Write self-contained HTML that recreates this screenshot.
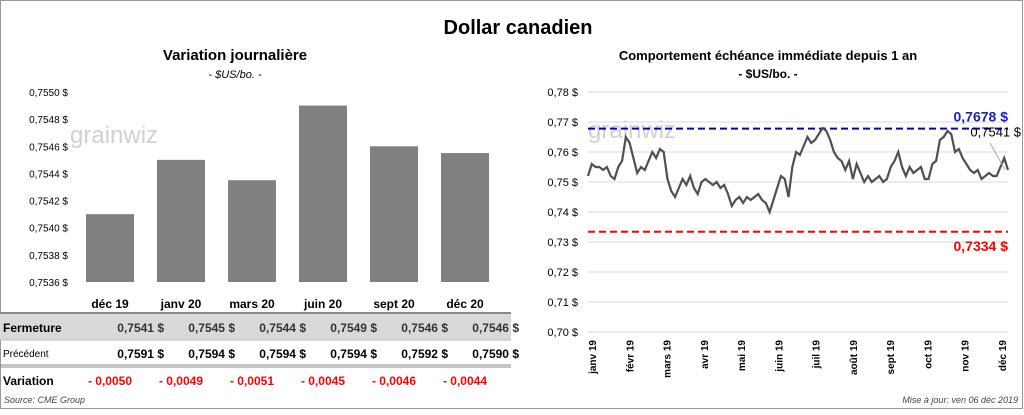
<!DOCTYPE html>
<html><head><meta charset="utf-8"><style>
body{margin:0;width:1024px;height:410px;overflow:hidden;background:#fff;font-family:"Liberation Sans",sans-serif}
svg text{font-family:"Liberation Sans",sans-serif}
</style></head><body>
<svg id="s" width="1024" height="410">
<rect x="0.5" y="0.5" width="1022" height="408" fill="#fff" stroke="#999"/>
<text x="518" y="34" font-size="20" font-weight="bold" text-anchor="middle">Dollar canadien</text>
<text x="235" y="60" font-size="15" font-weight="bold" text-anchor="middle">Variation  journalière</text>
<text x="235" y="78" font-size="11" font-style="italic" text-anchor="middle">- $US/bo. -</text>
<text x="768" y="60" font-size="13" font-weight="bold" text-anchor="middle">Comportement échéance immédiate depuis 1 an</text>
<text x="768" y="78" font-size="12" font-weight="bold" text-anchor="middle">- $US/bo. -</text>
<g id="left"></g><g id="right"></g>
<text x="4" y="403" font-size="9" font-style="italic" fill="#444">Source: CME Group</text>
<text x="1018" y="403" font-size="9" font-style="italic" fill="#444" text-anchor="end">Mise à jour: ven 06 déc 2019</text>
</svg>
<script>
const barCats=["déc 19","janv 20","mars 20","juin 20","sept 20","déc 20"];
const barVals=[0.7541,0.7545,0.75435,0.7549,0.7546,0.75455];
const closeVals=["0,7541","0,7545","0,7544","0,7549","0,7546","0,7546"];
const prevVals=["0,7591","0,7594","0,7594","0,7594","0,7592","0,7590"];
const varVals=["- 0,0050","- 0,0049","- 0,0051","- 0,0045","- 0,0046","- 0,0044"];
const leftTicks=[0.7536,0.7538,0.754,0.7542,0.7544,0.7546,0.7548,0.755];
const lineVals=[0.752,0.756,0.755,0.755,0.754,0.755,0.752,0.751,0.755,0.757,0.765,0.763,0.758,0.753,0.755,0.754,0.757,0.760,0.758,0.761,0.760,0.751,0.747,0.745,0.748,0.751,0.749,0.752,0.748,0.746,0.750,0.751,0.750,0.749,0.750,0.748,0.749,0.746,0.742,0.744,0.745,0.743,0.745,0.744,0.745,0.746,0.744,0.743,0.740,0.744,0.748,0.752,0.751,0.745,0.755,0.760,0.759,0.762,0.765,0.763,0.764,0.766,0.768,0.767,0.764,0.760,0.758,0.757,0.754,0.757,0.751,0.756,0.753,0.750,0.752,0.750,0.751,0.752,0.750,0.751,0.755,0.757,0.760,0.755,0.752,0.755,0.753,0.754,0.755,0.751,0.751,0.756,0.757,0.764,0.765,0.767,0.766,0.760,0.761,0.758,0.756,0.754,0.753,0.754,0.751,0.752,0.753,0.752,0.752,0.755,0.758,0.754];
const monthLabels=["janv 19","févr 19","mars 19","avr 19","mai 19","juin 19","juil 19","août 19","sept 19","oct 19","nov 19","déc 19"];
const rightTicks=[0.70,0.71,0.72,0.73,0.74,0.75,0.76,0.77,0.78];
const highVal=0.7678, lowVal=0.7334, lastVal=0.7541;
const NS="http://www.w3.org/2000/svg";
function mk(p,tag,a,txt){const e=document.createElementNS(NS,tag);for(const k in a)e.setAttribute(k,a[k]);if(txt!=null)e.textContent=txt;p.appendChild(e);return e;}
const fmt=(v,d)=>v.toFixed(d).replace('.',',');
// left chart
const L=document.getElementById('left');
const ly=v=>282-(v-0.7536)/0.0014*190;
const lx=i=>110+i*71;
leftTicks.forEach(t=>{const e=mk(L,'text',{x:112-44,y:ly(t)+4,'font-size':10,'text-anchor':'end'},fmt(t,4)+' $');
});
barVals.forEach((v,i)=>{const r=mk(L,'rect',{x:lx(i)-24,y:ly(v),width:48,height:282-ly(v),fill:'#808080'});
});
mk(L,'rect',{x:0,y:314,width:511,height:26,fill:'#d9d9d9'});
[[313,'#888',2],[340,'#bbb',1],[365,'#888',1],[367,'#888',1]].forEach(a=>mk(L,'line',{x1:0,x2:511,y1:a[0],y2:a[0],stroke:a[1],'stroke-width':a[2]}));
barCats.forEach((c,i)=>{const e=mk(L,'text',{x:lx(i),y:308,'font-size':12,'font-weight':'bold','text-anchor':'middle'},c);
});
[['Fermeture',332,12,'bold'],['Précédent',357,10,'normal'],['Variation',385,12,'bold']].forEach(r=>{const e=mk(L,'text',{x:3,y:r[1],'font-size':r[2],'font-weight':r[3]},r[0]);
});
closeVals.forEach((v,i)=>{const e=mk(L,'text',{x:lx(i)+54-lx(0)+lx(0)-0,y:332,'font-size':12,'font-weight':'bold','text-anchor':'end',fill:'#333'},v+'  $');
});
prevVals.forEach((v,i)=>{const e=mk(L,'text',{x:lx(i)+54,y:358,'font-size':12,'font-weight':'bold','text-anchor':'end'},v+'  $');
});
varVals.forEach((v,i)=>{const e=mk(L,'text',{x:lx(i),y:385,'font-size':12,'font-weight':'bold','text-anchor':'middle',fill:'#f00'},v);
});
mk(L,'text',{x:70,y:143,'font-size':24,fill:'#d0d0d0'},'grainwiz');
mk(L,'line',{x1:0,x2:0,y1:0,y2:0});
// right chart
const R=document.getElementById('right');
const X0=588,X1=1008;
const ry=v=>332-(v-0.70)/0.08*240;
const rx=i=>X0+i*(X1-X0)/(lineVals.length-1);
rightTicks.forEach(t=>{mk(R,'line',{x1:X0,x2:X1,y1:ry(t),y2:ry(t),stroke:'#d9d9d9'});
const e=mk(R,'text',{x:578,y:ry(t)+4,'font-size':11,'text-anchor':'end'},fmt(t,2)+' $');
});
mk(R,'text',{x:588,y:138,'font-size':24,fill:'#d0d0d0'},'grainwiz');
monthLabels.forEach((m,i)=>{const x=592+i*(1002-592)/11;const e=mk(R,'text',{transform:`translate(${x+4},340) rotate(-90)`,'font-size':10,'font-weight':'bold','text-anchor':'end'},m);
});
const hl=mk(R,'line',{x1:X0,x2:X1,y1:ry(highVal),y2:ry(highVal),stroke:'#0000c0','stroke-width':2,'stroke-dasharray':'7,4'});

const ll=mk(R,'line',{x1:X0,x2:X1,y1:ry(lowVal),y2:ry(lowVal),stroke:'#f00','stroke-width':2,'stroke-dasharray':'7,4'});

const p=mk(R,'polyline',{points:lineVals.map((v,i)=>rx(i)+','+ry(v)).join(' '),fill:'none',stroke:'#505050','stroke-width':2.2});

mk(R,'line',{x1:990,y1:143,x2:1005,y2:ry(lastVal),stroke:'#aaa'});
const t1=mk(R,'text',{x:1008,y:ry(highVal)-7,'font-size':14,'font-weight':'bold',fill:'#2020c0','text-anchor':'end'},fmt(highVal,4)+' $');

const t2=mk(R,'text',{x:1021,y:ry(highVal)+8,'font-size':13,'text-anchor':'end'},fmt(lastVal,4)+' $');

const t3=mk(R,'text',{x:1008,y:ry(lowVal)+19,'font-size':14,'font-weight':'bold',fill:'#f00','text-anchor':'end'},fmt(lowVal,4)+' $');

mk(document.getElementById('s'),'line',{x1:512,x2:512,y1:40,y2:395,stroke:'#fff'});
</script>
</body></html>
